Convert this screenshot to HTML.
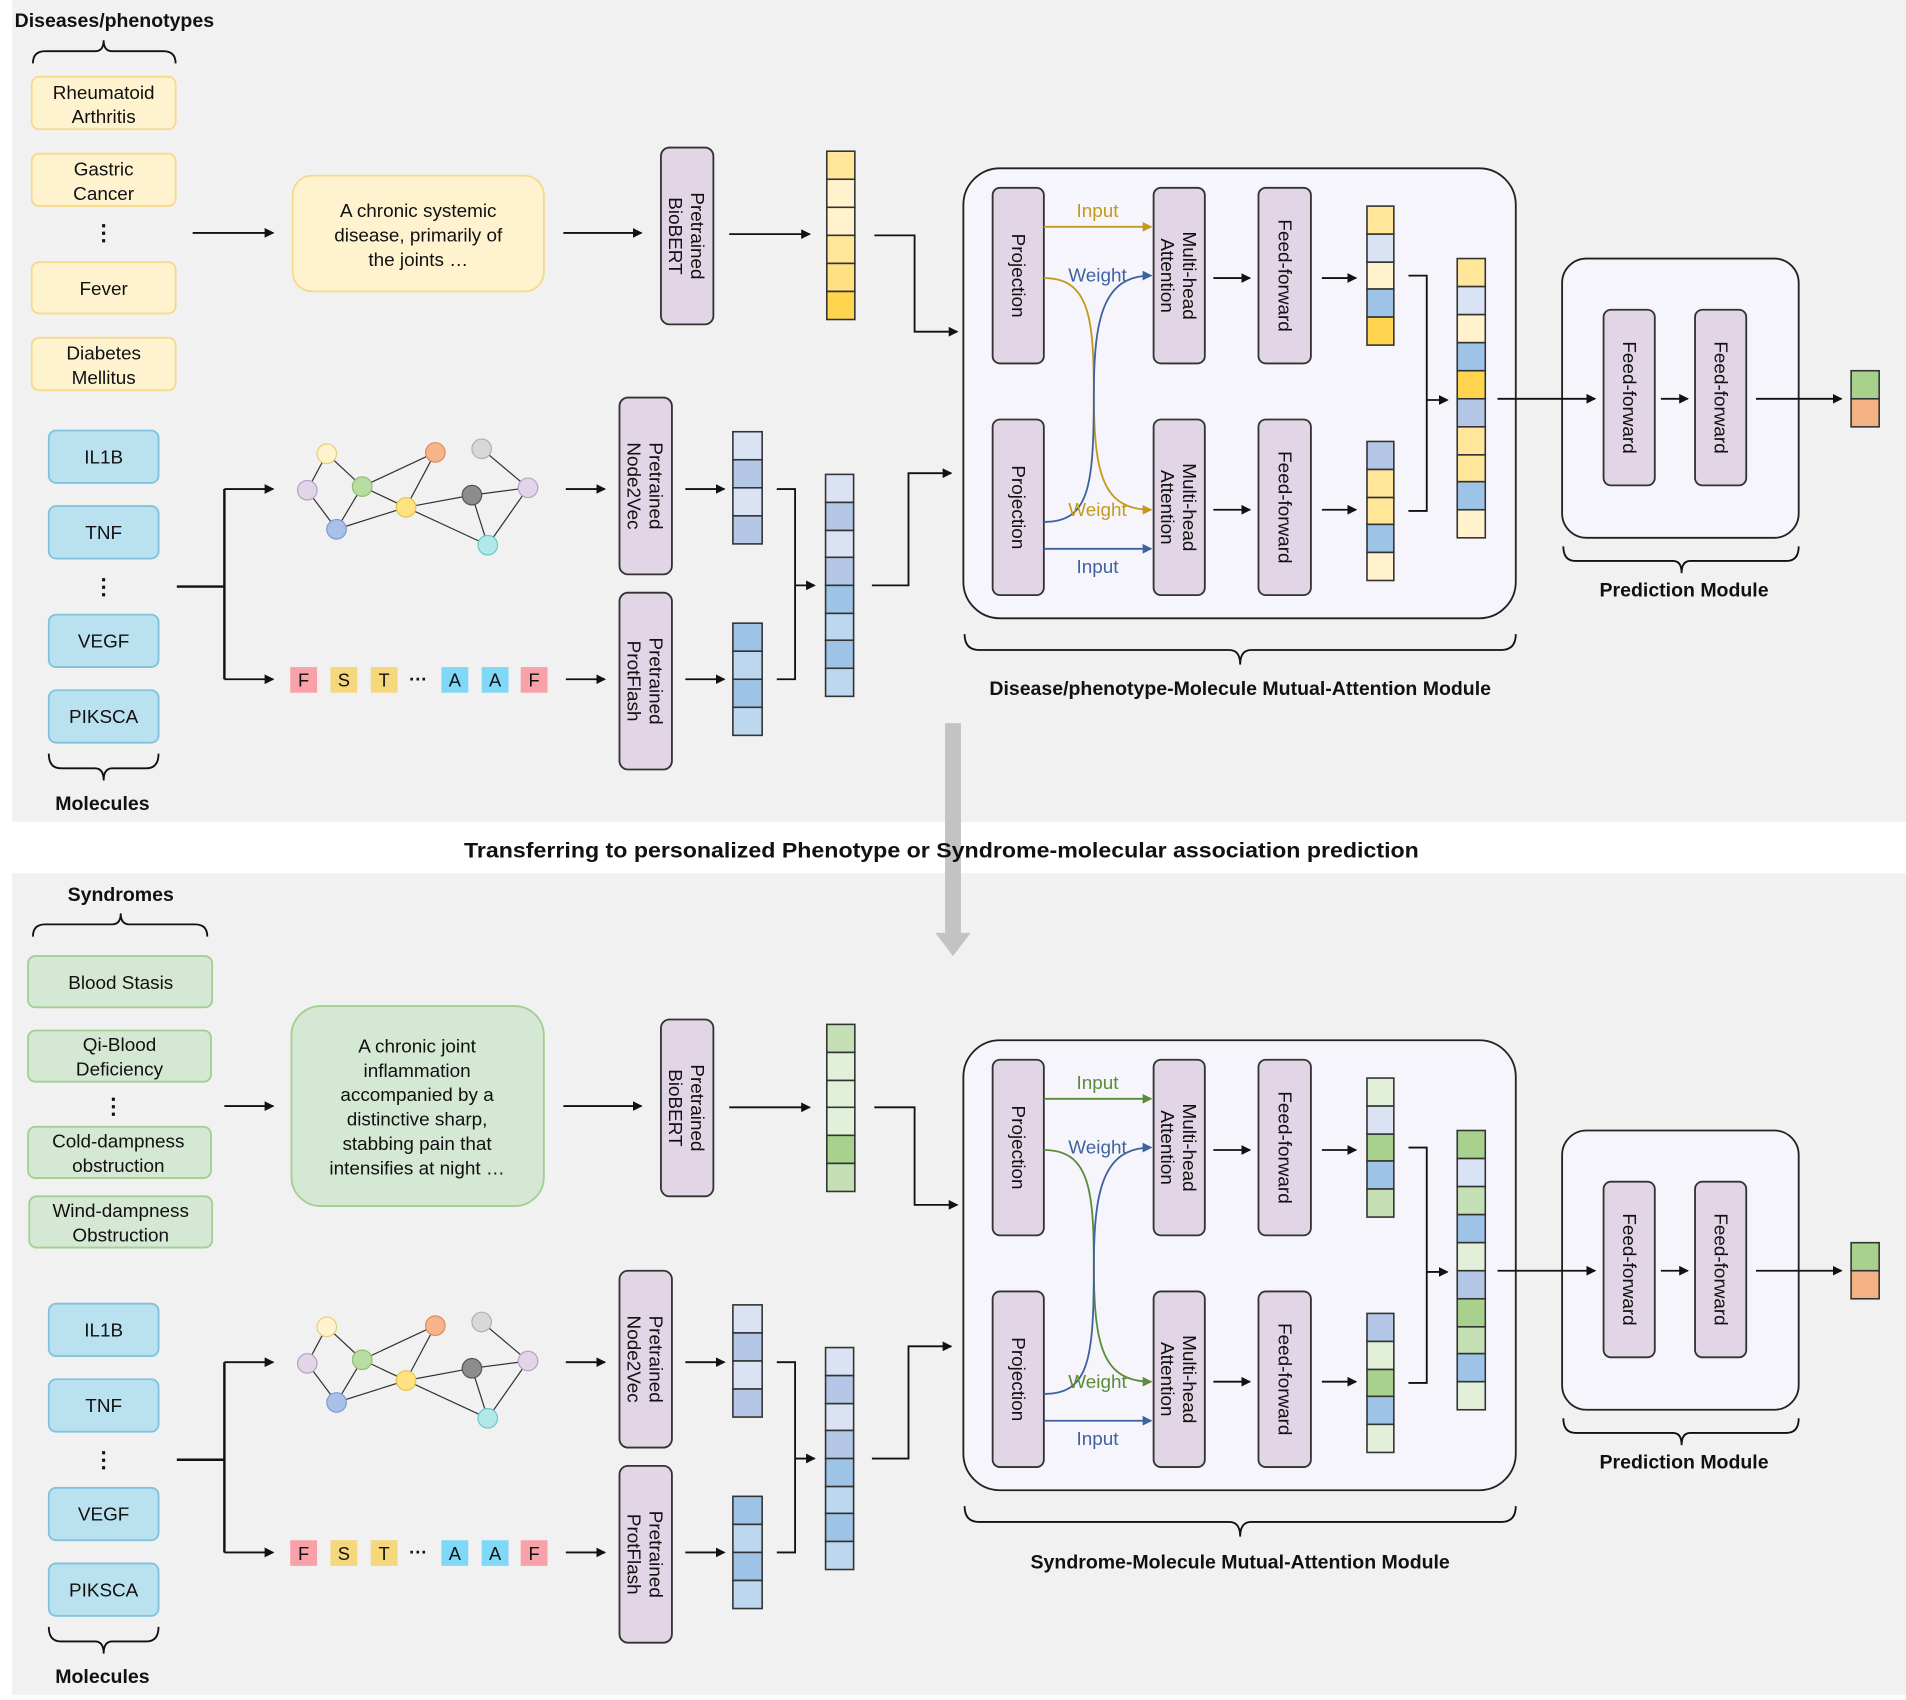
<!DOCTYPE html>
<html><head><meta charset="utf-8"><style>
html,body{margin:0;padding:0;background:#fff;}
svg{display:block;}
text{font-family:"Liberation Sans",Arial,sans-serif;fill:#111;}
.b{font-weight:bold;}
</style></head><body>
<svg width="1906" height="1700" viewBox="0 0 1563 1394" preserveAspectRatio="none" xmlns="http://www.w3.org/2000/svg">
<defs>
<marker id="ak" markerWidth="8" markerHeight="8" refX="7" refY="4" orient="auto" markerUnits="userSpaceOnUse"><path d="M0,0 L8,4 L0,8 Z" fill="#111"/></marker>
<marker id="ag" markerWidth="8" markerHeight="8" refX="7" refY="4" orient="auto" markerUnits="userSpaceOnUse"><path d="M0,0 L8,4 L0,8 Z" fill="#c49a1e"/></marker>
<marker id="ab" markerWidth="8" markerHeight="8" refX="7" refY="4" orient="auto" markerUnits="userSpaceOnUse"><path d="M0,0 L8,4 L0,8 Z" fill="#3f62a0"/></marker>
<marker id="agr" markerWidth="8" markerHeight="8" refX="7" refY="4" orient="auto" markerUnits="userSpaceOnUse"><path d="M0,0 L8,4 L0,8 Z" fill="#5b8c3a"/></marker>
</defs>
<rect x="0" y="0" width="1563" height="1394" fill="#fff"/>
<rect x="10" y="0" width="1553" height="674" fill="#f1f1f1"/>
<rect x="10" y="716" width="1553" height="674" fill="#f1f1f1"/>

<!-- ================= PANEL 1 ================= -->
<text x="12" y="22" font-size="16" class="b">Diseases/phenotypes</text>
<path d="M27,52 Q27,42 37,42 L78,42 Q85,42 85,33 Q85,42 92,42 L134,42 Q144,42 144,52" fill="none" stroke="#111" stroke-width="1.5"/>
<g font-size="15.5" text-anchor="middle">
<rect x="26" y="63" width="118" height="43" rx="6" fill="#fef2cf" stroke="#f7d98c" stroke-width="1.5"/>
<text x="85" y="81">Rheumatoid</text><text x="85" y="101">Arthritis</text>
<rect x="26" y="126" width="118" height="43" rx="6" fill="#fef2cf" stroke="#f7d98c" stroke-width="1.5"/>
<text x="85" y="144">Gastric</text><text x="85" y="164">Cancer</text>
<text x="85" y="197" font-size="18" class="b">⋮</text>
<rect x="26" y="215" width="118" height="42" rx="6" fill="#fef2cf" stroke="#f7d98c" stroke-width="1.5"/>
<text x="85" y="242">Fever</text>
<rect x="26" y="277" width="118" height="43" rx="6" fill="#fef2cf" stroke="#f7d98c" stroke-width="1.5"/>
<text x="85" y="295">Diabetes</text><text x="85" y="315">Mellitus</text>
</g>
<line x1="158" y1="191" x2="224" y2="191" stroke="#111" stroke-width="1.5" marker-end="url(#ak)"/>
<rect x="240" y="144" width="206" height="95" rx="16" fill="#fef2cf" stroke="#f7d98c" stroke-width="1.5"/>
<g font-size="15.5" text-anchor="middle"><text x="343" y="178">A chronic systemic</text><text x="343" y="198">disease, primarily of</text><text x="343" y="218">the joints …</text></g>
<line x1="462" y1="191" x2="526" y2="191" stroke="#111" stroke-width="1.5" marker-end="url(#ak)"/>

<g id="molecules1">
<g font-size="15.5" text-anchor="middle">
<rect x="40" y="353" width="90" height="43" rx="6" fill="#b9e1f0" stroke="#7fc3dd" stroke-width="1.5"/><text x="85" y="380">IL1B</text>
<rect x="40" y="415" width="90" height="43" rx="6" fill="#b9e1f0" stroke="#7fc3dd" stroke-width="1.5"/><text x="85" y="442">TNF</text>
<text x="85" y="487" font-size="18" class="b">⋮</text>
<rect x="40" y="504" width="90" height="43" rx="6" fill="#b9e1f0" stroke="#7fc3dd" stroke-width="1.5"/><text x="85" y="531">VEGF</text>
<rect x="40" y="566" width="90" height="43" rx="6" fill="#b9e1f0" stroke="#7fc3dd" stroke-width="1.5"/><text x="85" y="593">PIKSCA</text>
</g>
<path d="M40,618 Q40,630 50,630 L78,630 Q85,630 85,640 Q85,630 92,630 L120,630 Q130,630 130,618" fill="none" stroke="#111" stroke-width="1.5"/>
<text x="84" y="664" font-size="16" class="b" text-anchor="middle">Molecules</text>
<path d="M145,481 L184,481 M184,401 L184,557" stroke="#111" stroke-width="2" fill="none"/>
<line x1="184" y1="401" x2="224" y2="401" stroke="#111" stroke-width="1.5" marker-end="url(#ak)"/>
<line x1="184" y1="557" x2="224" y2="557" stroke="#111" stroke-width="1.5" marker-end="url(#ak)"/>
<g stroke="#333" stroke-width="1">
<line x1="268" y1="372" x2="252" y2="402"/><line x1="268" y1="372" x2="297" y2="399"/><line x1="297" y1="399" x2="276" y2="434"/>
<line x1="252" y1="402" x2="276" y2="434"/><line x1="276" y1="434" x2="333" y2="416"/><line x1="297" y1="399" x2="357" y2="371"/>
<line x1="297" y1="399" x2="333" y2="416"/><line x1="357" y1="371" x2="333" y2="416"/><line x1="333" y1="416" x2="387" y2="406"/>
<line x1="333" y1="416" x2="400" y2="447"/><line x1="387" y1="406" x2="433" y2="400"/><line x1="395" y1="368" x2="433" y2="400"/>
<line x1="387" y1="406" x2="400" y2="447"/><line x1="433" y1="400" x2="400" y2="447"/>
</g>
<g stroke-width="1">
<circle cx="268" cy="372" r="8" fill="#fff2cc" stroke="#e6cf7a"/><circle cx="252" cy="402" r="8" fill="#e1d5e7" stroke="#b9a0c9"/>
<circle cx="297" cy="399" r="8" fill="#b9dca0" stroke="#8fbf6f"/><circle cx="276" cy="434" r="8" fill="#a9c0e8" stroke="#7e9bd0"/>
<circle cx="333" cy="416" r="8" fill="#ffe380" stroke="#e6c34f"/><circle cx="357" cy="371" r="8" fill="#f7b48a" stroke="#e08a5a"/>
<circle cx="395" cy="368" r="8" fill="#d8d8d8" stroke="#b0b0b0"/><circle cx="387" cy="406" r="8" fill="#8c8c8c" stroke="#555"/>
<circle cx="433" cy="400" r="8" fill="#e1d5e7" stroke="#b9a0c9"/><circle cx="400" cy="447" r="8" fill="#b2e8e8" stroke="#6cc8c8"/>
</g>
<g font-size="15" text-anchor="middle">
<rect x="238" y="547" width="22" height="21" fill="#f8a1a8"/><text x="249" y="563">F</text>
<rect x="271" y="547" width="22" height="21" fill="#f5d77c"/><text x="282" y="563">S</text>
<rect x="304" y="547" width="22" height="21" fill="#f5d77c"/><text x="315" y="563">T</text>
<text x="343" y="562" class="b">···</text>
<rect x="362" y="547" width="22" height="21" fill="#7ed8f6"/><text x="373" y="563">A</text>
<rect x="395" y="547" width="22" height="21" fill="#7ed8f6"/><text x="406" y="563">A</text>
<rect x="427" y="547" width="22" height="21" fill="#f8a1a8"/><text x="438" y="563">F</text>
</g>
<line x1="464" y1="401" x2="496" y2="401" stroke="#111" stroke-width="1.5" marker-end="url(#ak)"/>
<line x1="464" y1="557" x2="496" y2="557" stroke="#111" stroke-width="1.5" marker-end="url(#ak)"/>
<rect x="508" y="326" width="43" height="145" rx="7" fill="#e2d5e6" stroke="#333" stroke-width="1.5"/>
<g transform="translate(529.5,398.5) rotate(90)" font-size="15.5" text-anchor="middle"><text y="-3">Pretrained</text><text y="15">Node2Vec</text></g>
<rect x="508" y="486" width="43" height="145" rx="7" fill="#e2d5e6" stroke="#333" stroke-width="1.5"/>
<g transform="translate(529.5,558.5) rotate(90)" font-size="15.5" text-anchor="middle"><text y="-3">Pretrained</text><text y="15">ProtFlash</text></g>
<line x1="562" y1="401" x2="594" y2="401" stroke="#111" stroke-width="1.5" marker-end="url(#ak)"/>
<line x1="562" y1="557" x2="594" y2="557" stroke="#111" stroke-width="1.5" marker-end="url(#ak)"/>
<g stroke="#333" stroke-width="1.3">
<rect x="601" y="354" width="24" height="23" fill="#dae3f3"/><rect x="601" y="377" width="24" height="23" fill="#b4c7e7"/><rect x="601" y="400" width="24" height="23" fill="#dae3f3"/><rect x="601" y="423" width="24" height="23" fill="#b4c7e7"/>
<rect x="601" y="511" width="24" height="23" fill="#9dc3e6"/><rect x="601" y="534" width="24" height="23" fill="#bdd7ee"/><rect x="601" y="557" width="24" height="23" fill="#9dc3e6"/><rect x="601" y="580" width="24" height="23" fill="#bdd7ee"/>
</g>
<path d="M637,401 L652,401 L652,557 L637,557" fill="none" stroke="#111" stroke-width="1.5"/>
<line x1="652" y1="480" x2="668" y2="480" stroke="#111" stroke-width="1.5" marker-end="url(#ak)"/>
<g stroke="#333" stroke-width="1.3">
<rect x="677" y="389" width="23" height="23" fill="#dae3f3"/><rect x="677" y="412" width="23" height="23" fill="#b4c7e7"/><rect x="677" y="435" width="23" height="22" fill="#dae3f3"/><rect x="677" y="457" width="23" height="23" fill="#b4c7e7"/>
<rect x="677" y="480" width="23" height="23" fill="#9dc3e6"/><rect x="677" y="503" width="23" height="22" fill="#bdd7ee"/><rect x="677" y="525" width="23" height="23" fill="#9dc3e6"/><rect x="677" y="548" width="23" height="23" fill="#bdd7ee"/>
</g>
<path d="M715,480 L745,480 L745,388 L780,388" fill="none" stroke="#111" stroke-width="1.5" marker-end="url(#ak)"/>
</g>

<rect x="542" y="121" width="43" height="145" rx="7" fill="#e2d5e6" stroke="#333" stroke-width="1.5"/>
<g transform="translate(563.5,193.5) rotate(90)" font-size="15.5" text-anchor="middle"><text y="-3">Pretrained</text><text y="15">BioBERT</text></g>
<line x1="598" y1="192" x2="664" y2="192" stroke="#111" stroke-width="1.5" marker-end="url(#ak)"/>
<g stroke="#333" stroke-width="1.3">
<rect x="678" y="124" width="23" height="23" fill="#ffe699"/><rect x="678" y="147" width="23" height="23" fill="#fff2cc"/><rect x="678" y="170" width="23" height="23" fill="#fff2cc"/><rect x="678" y="193" width="23" height="23" fill="#ffe699"/><rect x="678" y="216" width="23" height="23" fill="#ffe082"/><rect x="678" y="239" width="23" height="23" fill="#ffd54f"/>
</g>
<path d="M717,193 L750,193 L750,272 L785,272" fill="none" stroke="#111" stroke-width="1.5" marker-end="url(#ak)"/>

<g id="mod1">
<rect x="790" y="138" width="453" height="369" rx="30" fill="#f6f5fb" stroke="#222" stroke-width="1.5"/>
<g font-size="15.5" text-anchor="middle">
<rect x="814" y="154" width="42" height="144" rx="6" fill="#e2d5e6" stroke="#333" stroke-width="1.5"/>
<g transform="translate(835,226) rotate(90)"><text y="5">Projection</text></g>
<rect x="814" y="344" width="42" height="144" rx="6" fill="#e2d5e6" stroke="#333" stroke-width="1.5"/>
<g transform="translate(835,416) rotate(90)"><text y="5">Projection</text></g>
<rect x="946" y="154" width="42" height="144" rx="6" fill="#e2d5e6" stroke="#333" stroke-width="1.5"/>
<g transform="translate(967,226) rotate(90)"><text y="-3">Multi-head</text><text y="15">Attention</text></g>
<rect x="946" y="344" width="42" height="144" rx="6" fill="#e2d5e6" stroke="#333" stroke-width="1.5"/>
<g transform="translate(967,416) rotate(90)"><text y="-3">Multi-head</text><text y="15">Attention</text></g>
<rect x="1032" y="154" width="43" height="144" rx="6" fill="#e2d5e6" stroke="#333" stroke-width="1.5"/>
<g transform="translate(1053.5,226) rotate(90)"><text y="5">Feed-forward</text></g>
<rect x="1032" y="344" width="43" height="144" rx="6" fill="#e2d5e6" stroke="#333" stroke-width="1.5"/>
<g transform="translate(1053.5,416) rotate(90)"><text y="5">Feed-forward</text></g>
</g>
<line x1="856" y1="186" x2="944" y2="186" stroke="#c49a1e" stroke-width="1.5" marker-end="url(#ag)"/>
<path d="M856,228 C893,228 897,260 897,323 C897,390 905,418 944,418" fill="none" stroke="#c49a1e" stroke-width="1.5" marker-end="url(#ag)"/>
<path d="M856,428 C893,428 897,400 897,323 C897,260 905,226 944,226" fill="none" stroke="#3f62a0" stroke-width="1.5" marker-end="url(#ab)"/>
<line x1="856" y1="450" x2="944" y2="450" stroke="#3f62a0" stroke-width="1.5" marker-end="url(#ab)"/>
<g font-size="15.5" text-anchor="middle">
<text x="900" y="178" style="fill:#c49a1e">Input</text>
<text x="900" y="231" style="fill:#3f62a0">Weight</text>
<text x="900" y="423" style="fill:#c49a1e">Weight</text>
<text x="900" y="470" style="fill:#3f62a0">Input</text>
</g>
<line x1="995" y1="228" x2="1025" y2="228" stroke="#111" stroke-width="1.5" marker-end="url(#ak)"/>
<line x1="995" y1="418" x2="1025" y2="418" stroke="#111" stroke-width="1.5" marker-end="url(#ak)"/>
<line x1="1084" y1="228" x2="1112" y2="228" stroke="#111" stroke-width="1.5" marker-end="url(#ak)"/>
<line x1="1084" y1="418" x2="1112" y2="418" stroke="#111" stroke-width="1.5" marker-end="url(#ak)"/>
<g stroke="#333" stroke-width="1.3">
<rect x="1121" y="169" width="22" height="23" fill="#ffe699"/><rect x="1121" y="192" width="22" height="23" fill="#dae3f3"/><rect x="1121" y="215" width="22" height="22" fill="#fff2cc"/><rect x="1121" y="237" width="22" height="23" fill="#9dc3e6"/><rect x="1121" y="260" width="22" height="23" fill="#ffd54f"/>
<rect x="1121" y="362" width="22" height="23" fill="#b4c7e7"/><rect x="1121" y="385" width="22" height="23" fill="#ffe699"/><rect x="1121" y="408" width="22" height="22" fill="#ffe699"/><rect x="1121" y="430" width="22" height="23" fill="#9dc3e6"/><rect x="1121" y="453" width="22" height="23" fill="#fff2cc"/>
</g>
<path d="M1155,226 L1170,226 L1170,419 L1155,419" fill="none" stroke="#111" stroke-width="1.5"/>
<line x1="1170" y1="328" x2="1187" y2="328" stroke="#111" stroke-width="1.5" marker-end="url(#ak)"/>
<g stroke="#333" stroke-width="1.3">
<rect x="1195" y="212" width="23" height="23" fill="#ffe699"/><rect x="1195" y="235" width="23" height="23" fill="#dae3f3"/><rect x="1195" y="258" width="23" height="23" fill="#fff2cc"/><rect x="1195" y="281" width="23" height="23" fill="#9dc3e6"/><rect x="1195" y="304" width="23" height="23" fill="#ffd54f"/>
<rect x="1195" y="327" width="23" height="23" fill="#b4c7e7"/><rect x="1195" y="350" width="23" height="23" fill="#ffe699"/><rect x="1195" y="373" width="23" height="22" fill="#ffe699"/><rect x="1195" y="395" width="23" height="23" fill="#9dc3e6"/><rect x="1195" y="418" width="23" height="23" fill="#fff2cc"/>
</g>
<rect x="1281" y="212" width="194" height="229" rx="20" fill="#f6f5fb" stroke="#222" stroke-width="1.5"/>
<line x1="1228" y1="327" x2="1308" y2="327" stroke="#111" stroke-width="1.5" marker-end="url(#ak)"/>
<g font-size="15.5" text-anchor="middle">
<rect x="1315" y="254" width="42" height="144" rx="6" fill="#e2d5e6" stroke="#333" stroke-width="1.5"/>
<g transform="translate(1336,326) rotate(90)"><text y="5">Feed-forward</text></g>
<rect x="1390" y="254" width="42" height="144" rx="6" fill="#e2d5e6" stroke="#333" stroke-width="1.5"/>
<g transform="translate(1411,326) rotate(90)"><text y="5">Feed-forward</text></g>
</g>
<line x1="1362" y1="327" x2="1384" y2="327" stroke="#111" stroke-width="1.5" marker-end="url(#ak)"/>
<line x1="1440" y1="327" x2="1510" y2="327" stroke="#111" stroke-width="1.5" marker-end="url(#ak)"/>
<rect x="1518" y="304" width="23" height="23" fill="#a9d18e" stroke="#333" stroke-width="1.3"/>
<rect x="1518" y="327" width="23" height="23" fill="#f4b183" stroke="#333" stroke-width="1.3"/>
<path d="M1282,448 Q1282,460 1292,460 L1372,460 Q1379,460 1379,470 Q1379,460 1386,460 L1465,460 Q1475,460 1475,448" fill="none" stroke="#111" stroke-width="1.5"/>
<text x="1381" y="489" font-size="16" class="b" text-anchor="middle">Prediction Module</text>
<path d="M791,520 Q791,533 803,533 L1008,533 Q1017,533 1017,545 Q1017,533 1026,533 L1231,533 Q1243,533 1243,520" fill="none" stroke="#111" stroke-width="1.5"/>
</g>
<text x="1017" y="570" font-size="16" class="b" text-anchor="middle">Disease/phenotype-Molecule Mutual-Attention Module</text>

<!-- transfer arrow -->
<rect x="775" y="593" width="13" height="172" fill="#c3c3c3"/>
<path d="M767,765 L796,765 L781.5,784 Z" fill="#c3c3c3"/>
<text x="772" y="703" font-size="17.5" class="b" text-anchor="middle" textLength="783" lengthAdjust="spacingAndGlyphs">Transferring to personalized Phenotype or Syndrome-molecular association prediction</text>

<!-- ================= PANEL 2 ================= -->
<text x="99" y="739" font-size="16" class="b" text-anchor="middle">Syndromes</text>
<path d="M27,768 Q27,758 37,758 L92,758 Q99,758 99,749 Q99,758 106,758 L160,758 Q170,758 170,768" fill="none" stroke="#111" stroke-width="1.5"/>
<g font-size="15.5" text-anchor="middle">
<rect x="23" y="784" width="151" height="42" rx="6" fill="#d5e8d4" stroke="#a3cf92" stroke-width="1.5"/><text x="99" y="811">Blood Stasis</text>
<rect x="23" y="845" width="150" height="42" rx="6" fill="#d5e8d4" stroke="#a3cf92" stroke-width="1.5"/><text x="98" y="862">Qi-Blood</text><text x="98" y="882">Deficiency</text>
<text x="93" y="913" font-size="18" class="b">⋮</text>
<rect x="23" y="924" width="150" height="42" rx="6" fill="#d5e8d4" stroke="#a3cf92" stroke-width="1.5"/><text x="97" y="941">Cold-dampness</text><text x="97" y="961">obstruction</text>
<rect x="24" y="981" width="150" height="42" rx="6" fill="#d5e8d4" stroke="#a3cf92" stroke-width="1.5"/><text x="99" y="998">Wind-dampness</text><text x="99" y="1018">Obstruction</text>
</g>
<line x1="184" y1="907" x2="224" y2="907" stroke="#111" stroke-width="1.5" marker-end="url(#ak)"/>
<rect x="239" y="825" width="207" height="164" rx="24" fill="#d5e8d4" stroke="#a3cf92" stroke-width="1.5"/>
<g font-size="15.5" text-anchor="middle"><text x="342" y="863">A chronic joint</text><text x="342" y="883">inflammation</text><text x="342" y="903">accompanied by a</text><text x="342" y="923">distinctive sharp,</text><text x="342" y="943">stabbing pain that</text><text x="342" y="963">intensifies at night …</text></g>
<line x1="462" y1="907" x2="526" y2="907" stroke="#111" stroke-width="1.5" marker-end="url(#ak)"/>
<rect x="542" y="836" width="43" height="145" rx="7" fill="#e2d5e6" stroke="#333" stroke-width="1.5"/>
<g transform="translate(563.5,908.5) rotate(90)" font-size="15.5" text-anchor="middle"><text y="-3">Pretrained</text><text y="15">BioBERT</text></g>
<line x1="598" y1="908" x2="664" y2="908" stroke="#111" stroke-width="1.5" marker-end="url(#ak)"/>
<g stroke="#333" stroke-width="1.3">
<rect x="678" y="840" width="23" height="23" fill="#c5e0b4"/><rect x="678" y="863" width="23" height="23" fill="#e2f0d9"/><rect x="678" y="886" width="23" height="22" fill="#e2f0d9"/><rect x="678" y="908" width="23" height="23" fill="#e2f0d9"/><rect x="678" y="931" width="23" height="23" fill="#a9d18e"/><rect x="678" y="954" width="23" height="23" fill="#c5e0b4"/>
</g>
<path d="M717,908 L750,908 L750,988 L785,988" fill="none" stroke="#111" stroke-width="1.5" marker-end="url(#ak)"/>

<use href="#molecules1" transform="translate(0,716)"/>

<g transform="translate(0,715)">
<rect x="790" y="138" width="453" height="369" rx="30" fill="#f6f5fb" stroke="#222" stroke-width="1.5"/>
<g font-size="15.5" text-anchor="middle">
<rect x="814" y="154" width="42" height="144" rx="6" fill="#e2d5e6" stroke="#333" stroke-width="1.5"/>
<g transform="translate(835,226) rotate(90)"><text y="5">Projection</text></g>
<rect x="814" y="344" width="42" height="144" rx="6" fill="#e2d5e6" stroke="#333" stroke-width="1.5"/>
<g transform="translate(835,416) rotate(90)"><text y="5">Projection</text></g>
<rect x="946" y="154" width="42" height="144" rx="6" fill="#e2d5e6" stroke="#333" stroke-width="1.5"/>
<g transform="translate(967,226) rotate(90)"><text y="-3">Multi-head</text><text y="15">Attention</text></g>
<rect x="946" y="344" width="42" height="144" rx="6" fill="#e2d5e6" stroke="#333" stroke-width="1.5"/>
<g transform="translate(967,416) rotate(90)"><text y="-3">Multi-head</text><text y="15">Attention</text></g>
<rect x="1032" y="154" width="43" height="144" rx="6" fill="#e2d5e6" stroke="#333" stroke-width="1.5"/>
<g transform="translate(1053.5,226) rotate(90)"><text y="5">Feed-forward</text></g>
<rect x="1032" y="344" width="43" height="144" rx="6" fill="#e2d5e6" stroke="#333" stroke-width="1.5"/>
<g transform="translate(1053.5,416) rotate(90)"><text y="5">Feed-forward</text></g>
</g>
<line x1="856" y1="186" x2="944" y2="186" stroke="#5b8c3a" stroke-width="1.5" marker-end="url(#agr)"/>
<path d="M856,228 C893,228 897,260 897,323 C897,390 905,418 944,418" fill="none" stroke="#5b8c3a" stroke-width="1.5" marker-end="url(#agr)"/>
<path d="M856,428 C893,428 897,400 897,323 C897,260 905,226 944,226" fill="none" stroke="#3f62a0" stroke-width="1.5" marker-end="url(#ab)"/>
<line x1="856" y1="450" x2="944" y2="450" stroke="#3f62a0" stroke-width="1.5" marker-end="url(#ab)"/>
<g font-size="15.5" text-anchor="middle">
<text x="900" y="178" style="fill:#5b8c3a">Input</text>
<text x="900" y="231" style="fill:#3f62a0">Weight</text>
<text x="900" y="423" style="fill:#5b8c3a">Weight</text>
<text x="900" y="470" style="fill:#3f62a0">Input</text>
</g>
<line x1="995" y1="228" x2="1025" y2="228" stroke="#111" stroke-width="1.5" marker-end="url(#ak)"/>
<line x1="995" y1="418" x2="1025" y2="418" stroke="#111" stroke-width="1.5" marker-end="url(#ak)"/>
<line x1="1084" y1="228" x2="1112" y2="228" stroke="#111" stroke-width="1.5" marker-end="url(#ak)"/>
<line x1="1084" y1="418" x2="1112" y2="418" stroke="#111" stroke-width="1.5" marker-end="url(#ak)"/>
<g stroke="#333" stroke-width="1.3">
<rect x="1121" y="169" width="22" height="23" fill="#e2f0d9"/><rect x="1121" y="192" width="22" height="23" fill="#dae3f3"/><rect x="1121" y="215" width="22" height="22" fill="#a9d18e"/><rect x="1121" y="237" width="22" height="23" fill="#9dc3e6"/><rect x="1121" y="260" width="22" height="23" fill="#c5e0b4"/>
<rect x="1121" y="362" width="22" height="23" fill="#b4c7e7"/><rect x="1121" y="385" width="22" height="23" fill="#e2f0d9"/><rect x="1121" y="408" width="22" height="22" fill="#a9d18e"/><rect x="1121" y="430" width="22" height="23" fill="#9dc3e6"/><rect x="1121" y="453" width="22" height="23" fill="#e2f0d9"/>
</g>
<path d="M1155,226 L1170,226 L1170,419 L1155,419" fill="none" stroke="#111" stroke-width="1.5"/>
<line x1="1170" y1="328" x2="1187" y2="328" stroke="#111" stroke-width="1.5" marker-end="url(#ak)"/>
<g stroke="#333" stroke-width="1.3">
<rect x="1195" y="212" width="23" height="23" fill="#a9d18e"/><rect x="1195" y="235" width="23" height="23" fill="#dae3f3"/><rect x="1195" y="258" width="23" height="23" fill="#c5e0b4"/><rect x="1195" y="281" width="23" height="23" fill="#9dc3e6"/><rect x="1195" y="304" width="23" height="23" fill="#e2f0d9"/>
<rect x="1195" y="327" width="23" height="23" fill="#b4c7e7"/><rect x="1195" y="350" width="23" height="23" fill="#a9d18e"/><rect x="1195" y="373" width="23" height="22" fill="#c5e0b4"/><rect x="1195" y="395" width="23" height="23" fill="#9dc3e6"/><rect x="1195" y="418" width="23" height="23" fill="#e2f0d9"/>
</g>
<rect x="1281" y="212" width="194" height="229" rx="20" fill="#f6f5fb" stroke="#222" stroke-width="1.5"/>
<line x1="1228" y1="327" x2="1308" y2="327" stroke="#111" stroke-width="1.5" marker-end="url(#ak)"/>
<g font-size="15.5" text-anchor="middle">
<rect x="1315" y="254" width="42" height="144" rx="6" fill="#e2d5e6" stroke="#333" stroke-width="1.5"/>
<g transform="translate(1336,326) rotate(90)"><text y="5">Feed-forward</text></g>
<rect x="1390" y="254" width="42" height="144" rx="6" fill="#e2d5e6" stroke="#333" stroke-width="1.5"/>
<g transform="translate(1411,326) rotate(90)"><text y="5">Feed-forward</text></g>
</g>
<line x1="1362" y1="327" x2="1384" y2="327" stroke="#111" stroke-width="1.5" marker-end="url(#ak)"/>
<line x1="1440" y1="327" x2="1510" y2="327" stroke="#111" stroke-width="1.5" marker-end="url(#ak)"/>
<rect x="1518" y="304" width="23" height="23" fill="#a9d18e" stroke="#333" stroke-width="1.3"/>
<rect x="1518" y="327" width="23" height="23" fill="#f4b183" stroke="#333" stroke-width="1.3"/>
<path d="M1282,448 Q1282,460 1292,460 L1372,460 Q1379,460 1379,470 Q1379,460 1386,460 L1465,460 Q1475,460 1475,448" fill="none" stroke="#111" stroke-width="1.5"/>
<text x="1381" y="489" font-size="16" class="b" text-anchor="middle">Prediction Module</text>
<path d="M791,520 Q791,533 803,533 L1008,533 Q1017,533 1017,545 Q1017,533 1026,533 L1231,533 Q1243,533 1243,520" fill="none" stroke="#111" stroke-width="1.5"/>
<text x="1017" y="571" font-size="16" class="b" text-anchor="middle">Syndrome-Molecule Mutual-Attention Module</text>
</g>
</svg>
</body></html>
